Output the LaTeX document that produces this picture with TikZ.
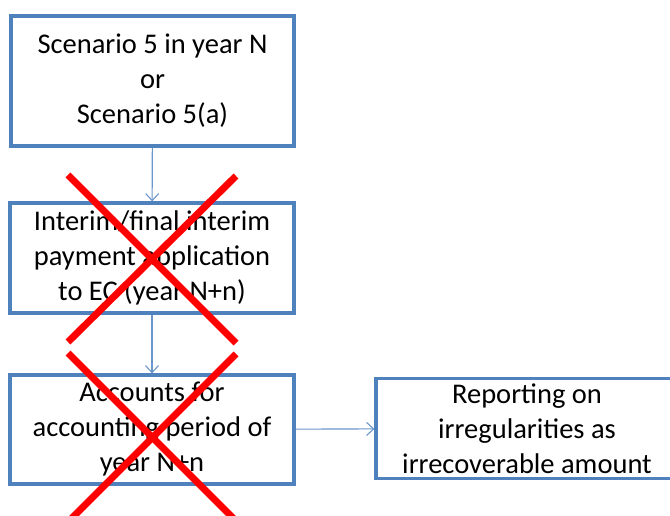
\documentclass[tikz,border=0pt]{standalone}
\usepackage{fontspec}
\setmainfont{Carlito}
\usetikzlibrary{arrows.meta}
\definecolor{boxblue}{HTML}{4F81BD}
\definecolor{arrblue}{HTML}{6A96CC}
\definecolor{xred}{HTML}{FF0000}
\begin{document}
\begin{tikzpicture}[x=1pt,y=-1pt,
  box/.style={draw=boxblue,line width=3.2pt,fill=white,inner sep=0pt,align=center,
    font=\fontsize{28.5}{35}\selectfont},
  conn/.style={draw=arrblue,line width=1.1pt,-{Straight Barb[length=7pt,width=13pt,line width=1.1pt]}},
  cross/.style={draw=xred,line width=7pt}]
\clip (0,0) rectangle (670,516);
\fill[white] (0,0) rectangle (670,516);
\node[box,minimum width=283pt,minimum height=130pt] (b1) at (152.5,81) {Scenario 5 in year N\\or\\Scenario 5(a)};
\node[box,minimum width=284pt,minimum height=110pt] (b2) at (152,258) {Interim/final interim\\payment application\\to EC (year N+n)};
\node[box,minimum width=284pt,minimum height=109pt] (b3) at (152,429.5) {Accounts for\\accounting period of\\year N+n};
\node[box,minimum width=302pt,minimum height=100pt] (b4) at (527,428.5) {Reporting on\\irregularities as\\irrecoverable amount};
\draw[conn] (b1) -- (b2);
\draw[conn] (b2) -- (b3);
\draw[conn] (b3) -- (b4);
\draw[cross] (68,175) -- (236,343);
\draw[cross] (236,176) -- (68,342);
\draw[cross] (68,353) -- (236,521);
\draw[cross] (236,354) -- (68,522);
\end{tikzpicture}
\end{document}
